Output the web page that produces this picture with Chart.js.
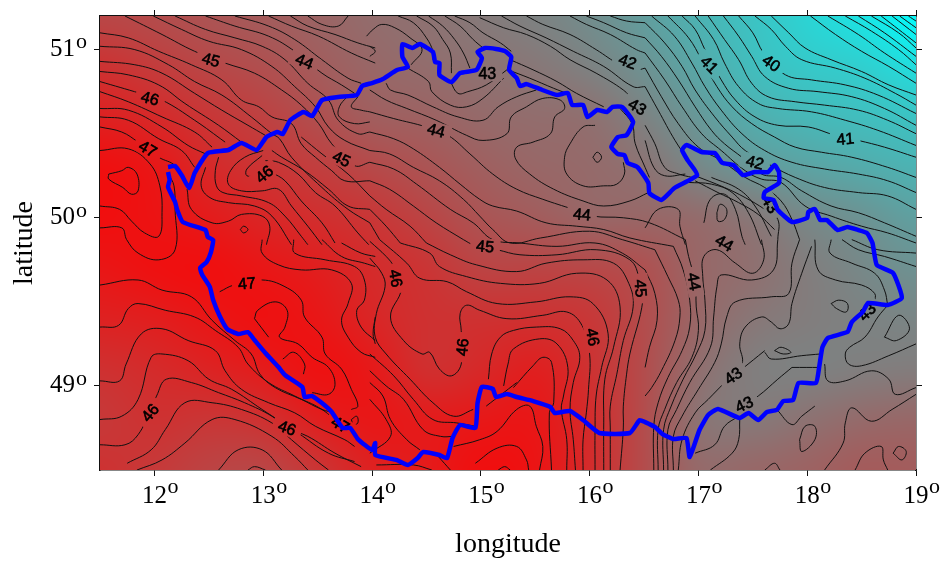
<!DOCTYPE html>
<html>
<head>
<meta charset="utf-8">
<style>
  html, body { margin: 0; padding: 0; background: #fff; }
  canvas { display: block; }
</style>
<script src="https://cdn.jsdelivr.net/npm/chart.js@4/dist/chart.umd.min.js"></script>
</head>
<body>
<canvas id="myChart" width="942" height="561"></canvas>
<script>
const tickLon = [12, 13, 14, 15, 16, 17, 18, 19];
const tickLat = [49, 50, 51];

// field: rows north to south, columns west to east
const fieldLon = [11.5, 12, 12.5, 13, 13.5, 14, 14.5, 15, 15.5, 16, 16.5, 17, 17.5, 18, 18.5, 19];
const fieldLat = [51.2, 50.9, 50.6, 50.3, 50.0, 49.7, 49.4, 49.1, 48.8, 48.5];
const fieldValues = [
  [45.2, 45.0, 44.7, 44.4, 44.1, 43.8, 43.6, 43.3, 43.0, 42.6, 42.0, 41.2, 40.6, 40.0, 39.4, 38.5],
  [46.0, 45.6, 45.2, 44.9, 44.4, 44.0, 43.8, 43.6, 43.4, 43.0, 42.4, 41.6, 40.8, 40.4, 40.2, 39.6],
  [46.6, 46.3, 45.8, 45.4, 44.9, 44.3, 44.2, 43.9, 43.8, 43.7, 43.0, 42.2, 41.4, 41.0, 40.8, 40.6],
  [47.3, 47.0, 46.3, 45.9, 45.5, 45.1, 44.7, 44.3, 44.0, 43.9, 43.6, 42.8, 42.2, 41.8, 41.5, 41.2],
  [47.3, 47.1, 46.8, 46.4, 46.1, 45.8, 45.3, 44.7, 44.4, 44.0, 44.0, 43.9, 43.4, 42.8, 42.4, 41.9],
  [47.0, 47.2, 47.3, 47.0, 46.7, 46.2, 45.9, 45.3, 45.3, 45.2, 44.9, 44.0, 43.7, 43.2, 42.8, 42.4],
  [46.6, 46.7, 47.0, 47.2, 47.0, 46.4, 46.0, 46.0, 46.0, 45.8, 45.0, 44.0, 43.4, 43.2, 43.0, 42.9],
  [46.0, 46.2, 46.5, 46.8, 47.2, 46.9, 46.0, 46.3, 46.7, 46.0, 45.0, 43.7, 43.1, 43.0, 43.1, 43.2],
  [45.7, 46.0, 45.8, 46.0, 46.7, 47.0, 46.8, 46.9, 47.0, 46.2, 45.0, 43.5, 43.3, 43.6, 43.9, 44.0],
  [46.0, 45.7, 45.3, 45.2, 45.8, 46.6, 46.8, 47.3, 47.1, 46.2, 45.0, 43.9, 44.0, 44.2, 44.5, 44.4],
];

const borderLon = [12.125,12.19,12.25,12.32,12.37,12.49,12.68,12.80,12.94,13.03,13.13,13.18,13.25,13.37,13.45,13.54,13.69,13.86,13.91,14.00,14.10,14.23,14.33,14.28,14.28,14.37,14.44,14.56,14.58,14.62,14.62,14.73,14.81,14.96,15.01,14.97,15.04,15.14,15.22,15.28,15.26,15.33,15.36,15.42,15.54,15.70,15.80,15.84,15.94,15.98,16.07,16.16,16.21,16.30,16.40,16.34,16.26,16.20,16.26,16.32,16.35,16.44,16.54,16.55,16.66,16.78,16.99,16.90,16.85,16.89,17.03,17.15,17.22,17.32,17.41,17.52,17.64,17.70,17.74,17.74,17.61,17.60,17.69,17.73,17.86,18.00,18.01,18.07,18.12,18.18,18.28,18.37,18.47,18.55,18.60,18.64,18.79,18.87,18.74,18.56,18.51,18.41,18.37,18.19,18.14,18.11,18.08,17.92,17.87,17.78,17.72,17.63,17.55,17.46,17.38,17.18,17.09,17.01,16.92,16.89,16.77,16.67,16.60,16.51,16.46,16.37,16.09,15.94,15.82,15.68,15.64,15.48,15.33,15.24,15.14,15.11,15.01,14.97,14.95,14.81,14.74,14.69,14.62,14.47,14.42,14.33,14.23,14.03,14.03,14.00,13.87,13.80,13.73,13.63,13.54,13.45,13.38,13.36,13.20,13.14,13.02,12.92,12.86,12.77,12.67,12.60,12.54,12.51,12.44,12.42,12.48,12.52,12.54,12.49,12.47,12.26,12.21,12.19,12.125,12.14,12.125];
const borderLat = [50.302,50.308,50.254,50.177,50.266,50.385,50.403,50.445,50.403,50.480,50.510,50.498,50.581,50.629,50.605,50.700,50.718,50.730,50.784,50.801,50.825,50.879,50.897,50.956,51.033,51.010,51.033,50.986,50.926,50.920,50.849,50.807,50.861,50.879,50.950,50.986,51.010,51.004,50.992,50.956,50.879,50.831,50.784,50.795,50.766,50.730,50.742,50.671,50.671,50.599,50.641,50.629,50.659,50.659,50.570,50.492,50.480,50.421,50.379,50.373,50.326,50.301,50.207,50.147,50.106,50.177,50.254,50.343,50.403,50.433,50.391,50.385,50.326,50.314,50.254,50.272,50.272,50.314,50.272,50.207,50.153,50.118,50.106,50.046,49.975,49.999,50.034,50.052,49.987,49.987,49.927,49.945,49.927,49.909,49.850,49.719,49.671,49.523,49.481,49.493,49.440,49.380,49.321,49.285,49.231,49.112,49.017,49.017,48.916,48.910,48.857,48.845,48.797,48.839,48.809,48.863,48.827,48.738,48.577,48.690,48.684,48.714,48.756,48.785,48.797,48.720,48.720,48.797,48.851,48.839,48.875,48.910,48.934,48.952,48.934,48.982,48.994,48.898,48.750,48.768,48.690,48.571,48.589,48.607,48.571,48.530,48.559,48.589,48.660,48.619,48.684,48.750,48.750,48.845,48.898,48.940,48.934,48.994,49.065,49.112,49.196,49.273,49.320,49.309,49.338,49.416,49.511,49.588,49.660,49.701,49.737,49.796,49.868,49.886,49.927,49.975,50.046,50.094,50.183,50.225,50.272,50.302];

// contours as lon,lat pairs, one block per part of the map
const contoursNorthWest = [
  [11.73,51.20,12.07,51.09,12.37,50.99,12.65,50.92,12.92,50.86,13.17,50.76,13.35,50.67,13.51,50.56,13.63,50.44,13.84,50.31,13.98,50.33],
  [11.99,51.20,12.25,51.12,12.50,51.05,12.80,51.00,13.08,50.90,13.29,50.78,13.48,50.66,13.60,50.54,13.75,50.46,13.98,50.40],
  [12.19,51.20,12.47,51.12,12.74,51.07,12.99,51.02,13.20,50.94,13.41,50.80,13.60,50.70,13.69,50.58,13.87,50.50,13.98,50.51],
  [12.47,51.20,12.74,51.14,13.05,51.08,13.29,50.99,13.54,50.86,13.72,50.79,13.84,50.74],
  [13.98,50.63,13.90,50.64,13.81,50.66,13.87,50.72],
  [13.98,50.57,13.84,50.56,13.70,50.60,13.70,50.66,13.77,50.72],
  [12.74,51.20,13.05,51.14,13.29,51.06,13.54,50.94,13.78,50.83,13.90,50.80],
  [13.05,51.20,13.26,51.14,13.51,51.08,13.81,50.98,14.03,50.92],
  [13.25,51.20,13.41,51.14,13.66,51.09,13.87,51.04,14.03,51.01],
  [13.41,51.20,13.54,51.15,13.69,51.14,13.78,51.20],
  [11.50,51.10,11.76,51.07,12.04,50.99,12.34,50.91,12.62,50.82,12.80,50.70,12.96,50.66,13.08,50.60,13.26,50.56,13.35,50.44,13.48,50.36,13.63,50.28,13.75,50.22,13.98,50.22],
  [11.50,51.02,11.82,51.00,12.13,50.91,12.37,50.81,12.62,50.73,12.89,50.60,13.08,50.50,13.15,50.47,13.26,50.36,13.54,50.18,13.78,50.05,13.98,49.97],
  [11.50,50.93,11.82,50.91,12.07,50.86,12.37,50.74,12.62,50.64,12.86,50.55,13.02,50.49],
  [11.50,50.87,11.76,50.85,12.04,50.79,12.28,50.68,12.59,50.55,12.80,50.45],
  [11.50,50.81,11.87,50.74,12.07,50.70,12.37,50.58,12.65,50.45],
  [11.50,50.75,11.76,50.69,12.07,50.60,12.37,50.51,12.53,50.42],
  [11.50,50.65,11.76,50.64,12.07,50.54,12.31,50.43,12.47,50.38],
  [11.50,50.60,11.76,50.58,12.04,50.47,12.25,50.40,12.37,50.30],
  [11.50,50.54,11.70,50.51,11.85,50.45,12.04,50.36,12.19,50.31,12.33,50.18],
  [11.50,50.40,11.76,50.41,11.96,50.32,12.05,50.19,12.07,50.03,12.04,49.89,11.91,49.91,11.79,49.98,11.68,50.05,11.50,50.07],
  [11.58,50.26,11.70,50.28,11.76,50.30,11.84,50.26,11.85,50.16,11.79,50.14,11.71,50.18,11.58,50.23,11.58,50.26],
  [11.50,49.94,11.70,49.94,11.745,49.87,11.85,49.79,12.04,49.75,12.19,49.81,12.19,50.05,12.18,50.19,12.13,50.26],
  [12.99,50.37,12.85,50.29,12.85,50.25,12.94,50.25],
  [13.08,50.27,13.20,50.22,13.35,50.10,13.54,49.97,13.66,49.85],
  [13.02,50.34,13.14,50.33,13.32,50.26,13.48,50.15,13.66,50.07,13.87,49.91,13.97,49.84],
  [13.08,50.40,13.17,50.36,13.38,50.28,13.60,50.17,13.78,50.07,13.98,50.05],
  [13.35,50.48,13.54,50.38,13.78,50.26,13.98,50.13],
  [13.00,50.40,12.83,50.36,12.70,50.28,12.68,50.20,12.80,50.16,12.99,50.16,13.14,50.17,13.26,50.07,13.41,49.95,13.54,49.84],
  [12.59,50.36,12.56,50.28,12.57,50.19,12.63,50.15,12.80,50.13,13.05,50.09,13.20,50.01,13.35,49.89,13.41,49.84],
  [12.47,50.30,12.43,50.19,12.51,50.12,12.68,50.09,12.92,50.07,13.08,50.01,13.26,49.84],
  [12.30,50.17,12.34,50.05,12.53,49.97,12.68,49.98,12.80,50.02,12.99,50.01,13.06,49.95,13.03,49.84],
  [12.79,49.93,12.82,49.95,12.86,49.93,12.82,49.91,12.79,49.93],
];

const contoursNorth = [
  [13.95,51.08,14.01,51.12,14.09,51.15,14.21,51.13,14.35,51.07,14.46,51.00,14.36,50.91],
  [13.98,51.02,14.03,50.99,13.98,50.96],
  [14.24,51.20,14.38,51.16,14.50,51.07,14.56,50.99,14.56,50.94],
  [14.41,51.20,14.56,51.14,14.65,51.06,14.72,50.98,14.73,50.86],
  [14.52,51.20,14.65,51.14,14.76,51.06,14.84,50.98,14.90,50.89],
  [14.67,51.20,14.81,51.14,14.93,51.06,15.02,51.01],
  [14.76,51.20,14.90,51.16,15.02,51.10,15.18,51.04,15.28,50.99],
  [14.99,51.19,15.21,51.13,15.42,51.09,15.64,51.02,15.82,50.94,16.06,50.86,16.31,50.76,16.40,50.70],
  [15.19,51.20,15.36,51.14,15.60,51.07,15.85,50.99,16.13,50.90,16.40,50.78,16.51,50.78],
  [15.42,51.20,15.57,51.15,15.82,51.09,16.06,51.00,16.28,50.91,16.43,50.88,16.51,50.89],
  [15.82,51.20,15.97,51.15,16.19,51.09,16.43,51.00,16.51,50.98],
  [15.97,51.20,16.13,51.16,16.34,51.10,16.51,51.07],
  [16.19,51.20,16.34,51.17,16.51,51.16],
  [15.27,50.94,15.48,50.88,15.70,50.81,15.88,50.74,16.13,50.66],
  [15.25,50.88,15.45,50.83,15.67,50.77,15.79,50.74],
  [16.28,50.65,16.39,50.56,16.42,50.44,16.51,50.30,16.55,50.24],
  [14.33,50.89,14.52,50.81,14.55,50.75,14.72,50.67,14.87,50.66,15.02,50.71,15.21,50.83],
  [14.72,50.81,14.79,50.74,14.88,50.75,15.05,50.79,15.24,50.88],
  [14.13,50.80,14.17,50.76,14.33,50.73,14.56,50.66,14.79,50.60,15.02,50.58,15.16,50.66,15.33,50.72,15.51,50.76],
  [13.98,50.76,14.13,50.70,14.32,50.65,14.59,50.58,14.87,50.49,15.02,50.46,15.24,50.50,15.28,50.60,15.42,50.66,15.57,50.71,15.73,50.70,15.77,50.65,15.68,50.60,15.64,50.50,15.48,50.45,15.33,50.42,15.32,50.35,15.45,50.26,15.67,50.17,15.94,50.10,16.13,50.07,16.37,50.10,16.54,50.15],
  [16.05,50.55,15.94,50.54,15.82,50.44,15.77,50.36,15.79,50.26,15.94,50.19,16.13,50.19,16.25,50.20,16.32,50.26,16.31,50.33],
  [16.03,50.36,16.07,50.39,16.11,50.36,16.07,50.33,16.03,50.36],
  [13.98,50.63,14.20,50.59,14.50,50.54,14.70,50.49,14.90,50.38,15.11,50.26,15.33,50.17,15.57,50.11,15.85,50.05,16.03,50.01,16.31,50.00,16.55,49.97,16.88,49.87],
  [13.98,50.51,14.20,50.47,14.38,50.41,14.62,50.30,14.81,50.20,14.99,50.11,15.11,50.07,15.33,50.04,15.60,49.97,15.88,49.95,16.13,49.93,16.37,49.88,16.77,49.83],
  [13.98,50.40,14.16,50.38,14.38,50.30,14.62,50.22,14.84,50.11,14.99,50.01,15.11,49.93,15.27,49.85,15.55,49.88,16.00,49.92,16.30,49.87,16.60,49.81],
  [13.98,50.33,14.20,50.29,14.41,50.20,14.72,50.05,14.93,49.97,15.11,49.87,15.36,49.85,15.70,49.83,16.05,49.85,16.30,49.79,16.51,49.69],
  [13.98,50.22,14.16,50.17,14.38,50.07,14.59,49.97,14.84,49.87],
  [13.98,50.13,14.13,50.05,14.35,49.95,14.50,49.85],
  [13.98,50.05,14.13,49.95,14.26,49.85],
  [13.98,49.97,14.07,49.87],
];

const contoursNorthEast = [
  [18.93,51.20,19,51.17],
  [18.85,51.20,19,51.13],
  [18.78,51.20,19,51.09],
  [18.68,51.20,19,51.04],
  [18.59,51.20,18.84,51.10,19,51.01],
  [18.47,51.20,18.71,51.10,19,50.96],
  [18.35,51.20,18.59,51.11,18.84,51.00,19,50.91],
  [18.19,51.20,18.47,51.09,18.71,50.98,19,50.86],
  [18.03,51.20,18.26,51.09,18.50,50.99,18.75,50.90,19,50.80],
  [17.67,51.20,17.83,51.10,17.98,51.01,18.22,50.94,18.50,50.87,18.75,50.79,19,50.73],
  [17.52,51.20,17.67,51.12,17.80,51.02,17.95,50.94,18.26,50.89,18.53,50.83,18.81,50.74,19,50.67],
  [17.37,51.20,17.50,51.10,17.60,50.98,17.80,50.85,18.04,50.82,18.35,50.79,18.65,50.73,19,50.62],
  [17.23,51.20,17.37,51.08,17.49,50.96,17.61,50.84,17.83,50.77,18.10,50.75,18.41,50.72,18.71,50.65,19,50.55],
  [17.09,51.20,17.24,51.06,17.37,50.94,17.49,50.80,17.64,50.72,17.89,50.69,18.16,50.67,18.47,50.64,18.74,50.58,19,50.50],
  [16.97,51.20,17.14,51.06,17.24,50.92,17.37,50.78,17.55,50.68,17.73,50.65,18.04,50.63,18.35,50.58,18.65,50.52,19,50.43],
  [16.85,51.20,16.97,51.12,17.06,51.00,17.21,50.82,17.34,50.70,17.52,50.60,17.73,50.55,18.01,50.54,18.26,50.49,18.47,50.46,18.71,50.42,19,50.36],
  [16.72,51.20,16.91,51.07,17.03,50.94,17.17,50.78,17.31,50.66,17.49,50.56,17.70,50.48,17.89,50.42,18.13,50.39,18.41,50.36,18.74,50.30,19,50.24],
  [16.57,51.20,16.78,51.08,16.94,50.92,17.06,50.78,17.21,50.64,17.40,50.50,17.61,50.40,17.86,50.33,18.16,50.29,18.47,50.26,18.74,50.22,19,50.15],
  [16.51,51.16,16.69,51.04,16.85,50.90,16.97,50.76,17.15,50.60,17.31,50.48,17.43,50.40,17.67,50.31,17.89,50.24,18.16,50.18,18.47,50.15,18.74,50.13,19,50.05],
  [16.51,51.07,16.66,50.96,16.815,50.82,16.97,50.66,17.12,50.52,17.24,50.44,17.40,50.36,17.58,50.26,17.76,50.24,17.95,50.16,18.22,50.07,18.47,50.03,18.71,49.97,19,49.89],
  [16.51,50.98,16.69,50.82,16.85,50.66,17.03,50.50,17.21,50.40,17.43,50.28,17.58,50.23,17.76,50.21,17.98,50.07,18.22,50.01,18.50,49.95,18.74,49.91,19,49.85],
  [16.51,50.89,16.66,50.72,16.815,50.56,17.00,50.42,17.21,50.34,17.43,50.24,17.61,50.18,17.76,50.10,17.86,49.99,17.93,49.87],
  [16.51,50.78,16.63,50.64,16.785,50.46,16.91,50.34],
  [16.51,50.55,16.60,50.44,16.69,50.30,16.82,50.26,16.94,50.24],
  [16.51,50.46,16.59,50.30,16.69,50.25,16.88,50.26],
  [16.97,50.25,17.24,50.18,17.43,50.12,17.61,50.05,17.73,49.99,17.73,49.87],
  [16.97,50.22,17.18,50.15,17.37,50.09,17.55,50.02,17.70,49.93],
  [17.05,49.97,17.11,50.11,17.24,50.14,17.34,50.05,17.40,49.89,17.43,49.84],
  [17.17,50.03,17.20,50.08,17.26,50.05,17.24,49.99,17.18,49.98,17.17,50.03],
  [16.51,49.94,16.63,50.05,16.815,50.05,16.83,49.95,16.88,49.84],
  [16.91,50.21,17.12,50.20,17.31,50.15,17.46,50.03,17.58,49.84],
  [17.12,50.24,17.37,50.17,17.52,50.07,17.67,49.89],
];

const contoursSouthWest = [
  [11.50,49.60,11.85,49.63,12.07,49.57,12.34,49.53,12.53,49.39,12.74,49.27,12.89,49.19,12.97,49.07,13.11,48.99,13.35,48.92,13.54,48.86,13.66,48.84],
  [11.50,49.35,11.67,49.36,11.76,49.46,11.85,49.49,12.10,49.45,12.37,49.41,12.56,49.33,12.77,49.23,12.86,49.13,13.05,49.02,13.29,48.94,13.54,48.86,13.72,48.76],
  [11.50,49.03,11.68,49.03,11.74,49.13,11.88,49.31,12.07,49.34,12.31,49.27,12.56,49.21,12.65,49.09,12.80,48.98,13.05,48.90,13.29,48.84,13.48,48.76,13.75,48.68,13.84,48.64],
  [11.50,48.80,11.70,48.82,11.85,48.92,11.97,49.17,12.07,49.19,12.31,49.15,12.50,49.04,12.71,48.98,12.99,48.86,13.32,48.72,13.60,48.60,13.84,48.55],
  [11.50,48.65,11.73,48.65,11.85,48.71,11.96,48.85,12.02,48.94,12.11,49.04,12.34,49.02,12.59,48.96,12.83,48.90,13.08,48.82,13.22,48.75,13.41,48.70,13.66,48.60,13.90,48.52],
  [11.75,48.54,11.97,48.62,12.10,48.74,12.28,48.90,12.53,48.90,12.80,48.86,13.08,48.78,13.26,48.68,13.48,48.56,13.60,48.50],
  [11.84,48.50,12.07,48.56,12.28,48.66,12.53,48.80,12.74,48.80,13.08,48.70,13.29,48.58,13.41,48.50],
  [12.59,48.50,12.77,48.62,12.99,48.62,13.17,48.50],
  [12.86,48.50,12.92,48.52,13.02,48.50],
  [12.60,49.56,12.73,49.60,12.99,49.63,13.20,49.59,13.35,49.51,13.38,49.41,13.54,49.29,13.57,49.19,13.72,49.10,13.81,48.98,13.87,48.88,13.81,48.86],
  [12.92,49.40,12.95,49.45,13.11,49.50,13.22,49.45,13.20,49.35,13.15,49.29,13.32,49.25,13.45,49.17,13.60,49.11,13.66,49.01,13.60,48.95,13.45,48.96],
  [12.92,49.40,13.05,49.29],
  [13.18,49.16,13.28,49.20,13.38,49.13,13.37,49.07],
  [13.81,48.80,13.86,48.82,13.87,48.78,13.83,48.77,13.81,48.80],
  [12.99,49.87,12.99,49.79,13.14,49.72,13.35,49.69,13.63,49.69,13.81,49.61,13.78,49.49,13.72,49.39,13.78,49.29,13.90,49.20,14.03,49.17],
  [13.28,49.87,13.29,49.79,13.57,49.75,13.84,49.71,13.93,49.63,13.93,49.51,13.86,49.45,13.90,49.35,14.03,49.27],
  [13.54,49.87,13.72,49.77,13.93,49.73,14.03,49.71],
  [13.72,49.85,13.90,49.79,14.03,49.77],
  [14.03,49.41,14.01,49.31,14.03,49.25],
];

const contoursSouth = [
  [13.98,49.86,14.13,49.77,14.20,49.71,14.27,49.58,14.17,49.41,14.29,49.27,14.46,49.19,14.53,49.20,14.62,49.10,14.73,49.06,14.82,49.13,14.82,49.33,14.81,49.43,14.87,49.48,14.99,49.45,15.24,49.40,15.57,49.42,15.79,49.44,15.93,49.36,16.00,49.19,15.99,48.98,15.97,48.84,15.94,48.68,15.94,48.50],
  [14.84,49.87,14.93,49.84,15.15,49.81,15.36,49.78,15.70,49.78,16.06,49.81,16.37,49.75,16.46,49.63,16.49,49.51,16.37,49.19,16.34,49.07,16.31,48.88,16.31,48.75,16.28,48.50],
  [14.50,49.85,14.72,49.78,14.96,49.72,15.33,49.68,15.60,49.73,15.94,49.75,16.22,49.73,16.36,49.61,16.40,49.47,16.31,49.27,16.25,49.07,16.19,48.88,16.19,48.75,16.19,48.50],
  [14.26,49.85,14.53,49.79,14.62,49.71,14.87,49.65,15.18,49.61,15.54,49.61,15.88,49.67,16.16,49.63,16.28,49.47,16.22,49.23,16.14,49.04,16.13,48.78,16.13,48.50],
  [14.07,49.87,14.32,49.73,14.44,49.64,14.69,49.62,14.87,49.56,15.15,49.49,15.51,49.50,15.82,49.53,16.03,49.49,16.17,49.31,16.11,49.11,16.06,48.94,16.05,48.74,16.05,48.50],
  [15.07,49.04,15.10,49.19,15.18,49.29,15.30,49.33,15.51,49.35,15.73,49.34,15.85,49.27,15.91,49.17,15.85,49.02,15.82,48.86,15.85,48.68,15.87,48.50],
  [15.21,49.00,15.25,49.13,15.30,49.22,15.54,49.28,15.70,49.25,15.80,49.11,15.76,48.94,15.74,48.86,15.79,48.68,15.79,48.50],
  [15.30,48.99,15.48,49.12,15.57,49.17,15.65,49.14,15.67,48.90,15.63,48.84,15.65,48.50],
  [14.75,48.64,14.99,48.68,15.15,48.73,15.33,48.86,15.45,48.88,15.51,48.76,15.57,48.64,15.54,48.50],
  [15.05,48.88,15.33,49.02],
  [15.16,48.50,15.22,48.52,15.27,48.50],
  [14.95,48.54,15.15,48.63,15.33,48.64,15.42,48.56,15.44,48.50],
  [13.98,49.76,14.09,49.67,14.12,49.59,14.04,49.43,14.03,49.29,14.13,49.19,14.35,49.04,14.56,48.90,14.75,48.82,14.93,48.86],
  [13.98,49.19,14.20,49.06,14.38,48.92,14.56,48.80,14.78,48.78,14.95,48.76],
  [13.98,49.09,14.13,49.00,14.29,48.92,14.47,48.74,14.63,48.70,14.75,48.70],
  [13.98,49.02,14.10,48.94,14.17,48.80,14.32,48.68,14.44,48.62],
  [13.98,48.92,14.13,48.80,14.17,48.70,13.98,48.60],
  [14.04,48.53,14.38,48.53,14.55,48.50],
  [14.61,48.58,14.72,48.50],
];

const contoursSouthEast = [
  [16.51,49.69,16.60,49.55,16.62,49.39,16.55,49.23,16.51,49.11],
  [16.60,49.81,16.72,49.65,16.815,49.51,16.83,49.41,16.785,49.27,16.66,49.09,16.57,48.99,16.51,48.94],
  [16.77,49.83,16.86,49.69,16.92,49.51,16.92,49.35,16.85,49.21,16.72,49.05,16.63,48.90,16.59,48.76,16.59,48.50],
  [16.88,49.87,16.91,49.77,16.97,49.62,16.98,49.47,17.00,49.33,16.94,49.17,16.80,49.02,16.69,48.86,16.63,48.74,16.63,48.50],
  [17.58,49.87,17.60,49.75,17.50,49.67,17.34,49.73,17.17,49.81,17.05,49.77,17.04,49.65,17.06,49.51,17.06,49.33,16.98,49.19,16.86,49.04,16.75,48.88,16.68,48.74,16.68,48.50],
  [17.73,49.87,17.69,49.69,17.49,49.63,17.21,49.66,17.17,49.59,17.14,49.41,17.11,49.23,16.92,49.02,16.80,48.86,16.72,48.74,16.72,48.50],
  [17.93,49.87,17.86,49.73,17.83,49.55,17.67,49.53,17.34,49.50,17.26,49.41,17.21,49.25,17.15,49.14,17.00,48.98,16.85,48.82,16.77,48.70,16.77,48.50],
  [18.04,49.83,17.95,49.67,17.86,49.49,17.83,49.37,17.75,49.34,17.67,49.38,17.58,49.41,17.43,49.35,17.38,49.25,17.40,49.13,17.24,49.02,17.09,48.92,16.97,48.84,16.85,48.68,16.815,48.50],
  [18.22,49.87,18.21,49.79,18.41,49.73,18.62,49.67,18.71,49.57,18.74,49.48],
  [18.07,49.87,18.10,49.69,18.26,49.63,18.50,49.60,18.62,49.55,18.62,49.50],
  [18.32,49.87,18.47,49.81,18.71,49.77,19,49.71],
  [18.41,49.87,18.65,49.81,19,49.79],
  [18.22,49.49,18.29,49.51,18.37,49.49,18.36,49.44,18.27,49.46,18.22,49.49],
  [17.70,49.21,17.76,49.23,17.85,49.20,17.78,49.19,17.70,49.21],
  [18.71,49.29,18.84,49.42,18.94,49.34,18.82,49.27,18.71,49.29],
  [18.74,49.48,18.65,49.41,18.53,49.29,18.39,49.23,18.35,49.19,18.38,49.13,18.50,49.12,18.75,49.18,19,49.25],
  [17.61,49.20,17.67,49.16,17.95,49.18,18.12,49.19],
  [17.61,49.21,17.40,49.10],
  [18.16,49.13,18.19,49.03,18.35,49.03,18.59,49.09,18.75,49.04,18.81,48.95,19,48.99],
  [17.86,49.11,17.73,49.04,17.55,48.94,17.40,48.88],
  [17.86,49.11,18.12,49.11],
  [17.72,48.86,17.86,48.77,17.95,48.82,18.07,48.88],
  [19,48.95,18.78,48.86,18.59,48.79,18.41,48.87,18.35,48.78,18.33,48.66,18.16,48.50],
  [17.93,48.68,17.98,48.76,18.07,48.76,18.07,48.68,17.95,48.61,17.93,48.68],
  [18.79,48.60,18.84,48.64,18.91,48.61,18.87,48.56,18.79,48.60],
  [18.44,48.50,18.53,48.60,18.68,48.64,18.70,48.56,18.74,48.50],
  [17.61,48.50,17.70,48.54,17.75,48.50],
  [16.97,48.60,17.15,48.65,17.24,48.76,17.37,48.82],
  [17.11,48.50,17.31,48.60,17.37,48.68,17.38,48.80],
];

// contour labels: text, lon, lat, rotation
const contourLabels = [
  ["45",12.52,50.94,15],["44",13.38,50.93,22],["46",11.96,50.71,15],["47",11.94,50.41,30],
  ["46",13.01,50.26,-40],["45",13.72,50.35,25],["44",14.59,50.52,15],["43",15.06,50.86,0],
  ["42",16.35,50.93,20],["43",16.44,50.66,30],["41",17.10,50.91,45],["40",17.67,50.92,35],
  ["41",18.35,50.47,-5],["42",17.52,50.33,15],["43",17.66,50.08,60],["44",17.24,49.85,30],
  ["44",15.93,50.02,5],["45",15.04,49.83,5],["46",14.22,49.64,80],["47",12.85,49.61,-5],
  ["45",16.47,49.58,85],["44",16.96,49.62,80],["46",14.83,49.23,-85],["46",16.03,49.29,80],
  ["43",18.55,49.44,-45],["43",17.32,49.06,-35],["43",17.42,48.89,-25],["46",13.22,48.75,20],
  ["46",11.96,48.84,-50],["47",13.71,48.77,30],
];

const allContours = [
  ...contoursNorthWest, ...contoursNorth, ...contoursNorthEast,
  ...contoursSouthWest, ...contoursSouth, ...contoursSouthEast,
];

function toPoints(flat) {
  const points = [];
  for (let i = 0; i < flat.length; i += 2) {
    points.push({ x: flat[i], y: flat[i + 1] });
  }
  return points;
}

// small canvas holding one pixel per field node, scaled up with smoothing
const fieldImage = document.createElement("canvas");
fieldImage.width = fieldLon.length;
fieldImage.height = fieldLat.length;
const fieldCtx = fieldImage.getContext("2d");
const cells = fieldCtx.createImageData(fieldLon.length, fieldLat.length);
fieldValues.forEach((row, r) => {
  row.forEach((value, c) => {
    const t = Math.min(1, Math.max(0, (value - 38.4) / 9.4));
    const i = (r * fieldLon.length + c) * 4;
    cells.data[i] = 255 * t;
    cells.data[i + 1] = 255 * (1 - t);
    cells.data[i + 2] = 255 * (1 - t);
    cells.data[i + 3] = 255;
  });
});
fieldCtx.putImageData(cells, 0, 0);

function paintField(chart) {
  const { ctx, scales } = chart;
  const left = scales.x.getPixelForValue(fieldLon[0]);
  const right = scales.x.getPixelForValue(fieldLon[fieldLon.length - 1]);
  const top = scales.y.getPixelForValue(fieldLat[0]);
  const bottom = scales.y.getPixelForValue(fieldLat[fieldLat.length - 1]);
  ctx.imageSmoothingEnabled = true;
  ctx.imageSmoothingQuality = "high";
  ctx.drawImage(fieldImage, 0.5, 0.5, fieldImage.width - 1, fieldImage.height - 1,
    left, top, right - left, bottom - top);
}

const fieldPlugin = {
  id: "field",
  beforeDatasetsDraw(chart) {
    paintField(chart);
  },
  // index 0 is the border, drawn last: labels go in just under it
  beforeDatasetDraw(chart, args) {
    if (args.index !== 0) return;
    const { ctx, scales } = chart;
    contourLabels.forEach(([text, lon, lat, angle]) => {
      const x = scales.x.getPixelForValue(lon);
      const y = scales.y.getPixelForValue(lat);
      const a = angle * Math.PI / 180;
      ctx.save();
      ctx.translate(x, y);
      ctx.rotate(a);
      ctx.beginPath();
      ctx.rect(-15, -8, 30, 16);
      ctx.rotate(-a);
      ctx.translate(-x, -y);
      ctx.clip();
      paintField(chart);
      ctx.restore();

      ctx.save();
      ctx.translate(x, y);
      ctx.rotate(a);
      ctx.font = "16px 'Liberation Sans'";
      ctx.textAlign = "center";
      ctx.textBaseline = "middle";
      ctx.fillStyle = "#000";
      ctx.strokeStyle = "#000";
      ctx.lineWidth = 0.6;
      ctx.fillText(text, 0, 1);
      ctx.strokeText(text, 0, 1);
      ctx.restore();
    });
  },
  // the small raised "o" after each tick number
  afterDraw(chart) {
    const { ctx, scales } = chart;
    ctx.save();
    ctx.font = "22px 'Liberation Serif'";
    ctx.fillStyle = "#000";
    ctx.textBaseline = "middle";
    ctx.textAlign = "left";
    tickLon.forEach((v) => {
      ctx.fillText("o", scales.x.getPixelForValue(v) + 13, 487);
    });
    tickLat.forEach((v) => {
      ctx.fillText("o", 76, scales.y.getPixelForValue(v) - 7);
    });
    ctx.restore();
  },
};

const frame = { display: true, color: "#111", width: 1.5 };
const outerTicks = { drawOnChartArea: false, drawTicks: true, tickLength: 6, tickColor: "#111", tickWidth: 1 };

function zeroPadding(scale) {
  scale.paddingTop = 0;
  scale.paddingBottom = 0;
  scale.paddingLeft = 0;
  scale.paddingRight = 0;
}

const ctx = document.getElementById("myChart").getContext("2d");
new Chart(ctx, {
  type: "scatter",
  data: {
    datasets: [
      {
        data: borderLon.map((lon, i) => ({ x: lon, y: borderLat[i] })),
        showLine: true,
        borderColor: "#0000ff",
        borderWidth: 4.5,
        borderJoinStyle: "round",
        pointRadius: 0,
        tension: 0.15,
      },
      ...allContours.map((line) => ({
        data: toPoints(line),
        showLine: true,
        borderColor: "#111",
        borderWidth: 1,
        pointRadius: 0,
        tension: 0.4,
      })),
    ],
  },
  options: {
    responsive: false,
    animation: false,
    events: [],
    layout: { padding: 0 },
    plugins: { legend: { display: false }, tooltip: { enabled: false } },
    scales: {
      x: {
        type: "linear",
        position: "bottom",
        min: 11.5,
        max: 19,
        border: frame,
        grid: outerTicks,
        afterBuildTicks: (scale) => { scale.ticks = tickLon.map((value) => ({ value })); },
        afterFit: (scale) => { scale.height = 91; zeroPadding(scale); },
        ticks: {
          autoSkip: false,
          maxRotation: 0,
          padding: 5,
          color: "#000",
          font: { family: "'Liberation Serif'", size: 25 },
          callback: (value) => String(value),
        },
        title: {
          display: true,
          text: "longitude",
          color: "#000",
          font: { family: "'Liberation Serif'", size: 28 },
          padding: { top: 0, bottom: 0 },
        },
      },
      y: {
        type: "linear",
        position: "left",
        min: 48.5,
        max: 51.2,
        border: frame,
        grid: outerTicks,
        afterBuildTicks: (scale) => { scale.ticks = tickLat.map((value) => ({ value })); },
        afterFit: (scale) => { scale.width = 100; zeroPadding(scale); },
        ticks: {
          autoSkip: false,
          padding: 19,
          color: "#000",
          font: { family: "'Liberation Serif'", size: 25 },
          callback: (value) => String(value),
        },
        title: {
          display: true,
          text: "latitude",
          color: "#000",
          font: { family: "'Liberation Serif'", size: 28 },
          padding: { top: 8, bottom: 0 },
        },
      },
      xTop: {
        type: "linear",
        position: "top",
        min: 11.5,
        max: 19,
        border: frame,
        grid: outerTicks,
        afterBuildTicks: (scale) => { scale.ticks = tickLon.map((value) => ({ value })); },
        afterFit: (scale) => { scale.height = 16; zeroPadding(scale); },
        ticks: { display: false },
      },
      yRight: {
        type: "linear",
        position: "right",
        min: 48.5,
        max: 51.2,
        border: frame,
        grid: outerTicks,
        afterBuildTicks: (scale) => { scale.ticks = tickLat.map((value) => ({ value })); },
        afterFit: (scale) => { scale.width = 26; zeroPadding(scale); },
        ticks: { display: false },
      },
    },
  },
  plugins: [fieldPlugin],
});
</script>
</body>
</html>
